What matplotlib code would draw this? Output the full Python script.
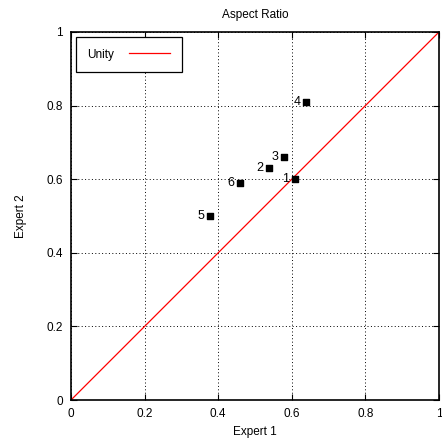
import numpy as np
from matplotlib import pyplot as plt

plt.rcParams['font.family'] = ['Liberation Sans', 'DejaVu Sans']
plt.rcParams['font.size'] = 8.5

# expert ratings for each case
labels = ['1', '2', '3', '4', '5', '6']
expert1 = [0.608, 0.538, 0.579, 0.638, 0.378, 0.459]
expert2 = [0.601, 0.631, 0.661, 0.811, 0.500, 0.590]
ticks = [0, 0.2, 0.4, 0.6, 0.8, 1]
tick_labels = ['0', '0.2', '0.4', '0.6', '0.8', '1']

fig = plt.figure(figsize=(4.42, 4.44), dpi=100)
ax = fig.add_axes([71 / 442, 44 / 444, 368 / 442, 368 / 444])

ax.plot([0, 1], [0, 1], color='red', lw=0.9, label='Unity')
ax.scatter(expert1, expert2, marker='s', s=22, color='black', zorder=3)
for lab, x, y in zip(labels, expert1, expert2):
    ax.annotate(lab, (x, y), xytext=(-4, 0), textcoords='offset points',
                ha='right', va='center', fontsize=9)

ax.set_xlim(0, 1)
ax.set_ylim(0, 1)
ax.set_xticks(ticks, tick_labels)
ax.set_yticks(ticks, tick_labels)
ax.tick_params(direction='in', top=True, right=True, length=4, width=0.8, pad=6)
ax.grid(True, color='black', linestyle=(0, (1, 2.5)), lw=0.7)
for s in ax.spines.values():
    s.set_linewidth(1.2)

ax.set_xlabel('Expert 1', labelpad=4)
ax.set_ylabel('Expert 2', labelpad=14)
ax.set_title('Aspect Ratio', fontsize=8.5, pad=10)

leg = ax.legend(loc='upper left', markerfirst=False, fancybox=False,
                edgecolor='black', framealpha=1, handlelength=3.5,
                borderpad=1.0, borderaxespad=0.4, handletextpad=1.2,
                fontsize=8.5)
leg.get_frame().set_linewidth(0.9)

fig.savefig('out.png', dpi=100)
